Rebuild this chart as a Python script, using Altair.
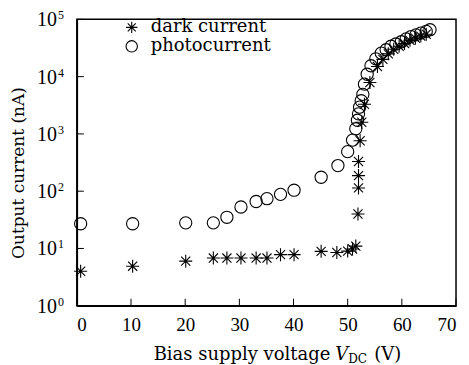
import altair as alt
import pandas as pd

# Dark current (asterisks)
dark_v = [0.7, 10.3, 20.1, 25.2, 27.7, 30.3, 33.1, 35.1, 37.6, 40.1, 45.1, 48.0, 50.0,
          50.9, 51.5, 51.9, 52.0, 52.0, 52.0, 52.3, 52.6, 53.1, 54.1, 55.5, 56.5, 57.5,
          58.5, 59.5, 60.5, 61.5, 62.5, 63.5, 64.5]
dark_i = [4.0, 4.9, 6.0, 6.8, 6.8, 6.8, 6.8, 6.8, 7.8, 7.8, 8.9, 8.5, 9.0,
          9.8, 11, 40, 114, 187, 330, 760, 1600, 3300, 7900, 15000, 20000, 25000,
          30000, 34000, 38000, 43000, 47000, 51000, 55000]

# Photocurrent (circles)
photo_v = [0.7, 10.3, 20.1, 25.2, 27.7, 30.3, 33.1, 35.1, 37.6, 40.1, 45.1, 48.2, 50.0,
           50.9, 51.5, 51.8, 52.0, 52.2, 52.5, 52.8, 53.1, 53.6, 54.3, 55.2, 56.2, 57.1,
           58.0, 58.9, 59.9, 60.8, 61.7, 62.6, 63.5, 64.5, 65.2]
photo_i = [27, 27, 28, 28, 35, 53, 66, 74, 88, 104, 175, 280, 490,
           780, 1230, 1730, 2240, 2930, 3800, 4900, 7400, 11000, 15500, 20500, 25700, 29500,
           33900, 37200, 40700, 45700, 50100, 53700, 57500, 61700, 66000]

x_ticks = [0, 10, 20, 30, 40, 50, 60, 70]
y_ticks = [1, 10, 100, 1000, 10000, 100000]
y_exps = ["0", "1", "2", "3", "4", "5"]
series_names = ["dark current", "photocurrent"]

STAR = "M-1,0L1,0M0,-1L0,1M-0.7,-0.7L0.7,0.7M-0.7,0.7L0.7,-0.7"
FONT = "DejaVu Serif"
NUMFONT = "Liberation Serif"

df = pd.concat([
    pd.DataFrame({"V": dark_v, "I": dark_i, "series": series_names[0]}),
    pd.DataFrame({"V": photo_v, "I": photo_i, "series": series_names[1]}),
])

W, H = 380, 287
xs = alt.Scale(domain=[0, 70], nice=False)
ys = alt.Scale(type="log", domain=[1, 100000], nice=False)

x_enc = alt.X("V:Q", scale=xs,
              axis=alt.Axis(values=x_ticks, title=None, grid=False, ticks=False,
                            labelFont=NUMFONT, labelFontSize=19, labelColor="black",
                            labelPadding=10, domainColor="black", domainWidth=1.5))
y_enc = alt.Y("I:Q", scale=ys,
              axis=alt.Axis(values=y_ticks, title="Output current (nA)", grid=False, ticks=False,
                            labels=False, titleFont=FONT, titleFontSize=17,
                            titleFontWeight="normal", titleColor="black",
                            titleX=-58, titleY=H / 2 + 10, titleAngle=270, titleAlign="center",
                            titleBaseline="middle",
                            domainColor="black", domainWidth=1.5))

points = alt.Chart(df).mark_point(filled=False, strokeWidth=1.1, color="black", opacity=1).encode(
    x=x_enc, y=y_enc,
    shape=alt.Shape("series:N", scale=alt.Scale(domain=series_names, range=[STAR, "circle"]),
                    legend=alt.Legend(title=None, orient="none", legendX=46, legendY=-1,
                                      labelFont=FONT, labelFontSize=18, labelColor="black",
                                      symbolSize=130, symbolStrokeWidth=1.1, symbolStrokeColor="black",
                                      symbolFillColor="transparent", rowPadding=1, labelOffset=10)),
    size=alt.condition(alt.datum.series == "dark current", alt.value(170), alt.value(150)),
)

xt = pd.DataFrame({"t": x_ticks})
yt = pd.DataFrame({"t": y_ticks, "e": y_exps, "b": ["10"] * len(y_ticks)})
xtick = alt.Chart(xt).mark_rule(color="black", strokeWidth=1).encode(
    x=alt.X("t:Q", scale=xs), y=alt.value(H), y2=alt.value(H - 7))
ytick = alt.Chart(yt).mark_rule(color="black", strokeWidth=1).encode(
    y=alt.Y("t:Q", scale=ys), x=alt.value(0), x2=alt.value(7))
ylab = alt.Chart(yt).mark_text(font=NUMFONT, fontSize=20, align="right", baseline="middle",
                               color="black", dy=1).encode(
    y=alt.Y("t:Q", scale=ys), x=alt.value(-20), text="b:N")
yexp = alt.Chart(yt).mark_text(font=NUMFONT, fontSize=12, align="left", baseline="middle",
                               color="black", dy=-4).encode(
    y=alt.Y("t:Q", scale=ys), x=alt.value(-19), text="e:N")

BASE = 341
t1 = alt.Chart(pd.DataFrame({"s": ["Bias supply voltage"]})).mark_text(
    font=FONT, fontSize=18, align="right", baseline="alphabetic", color="black").encode(
    text="s:N", x=alt.value(254), y=alt.value(BASE))
t2 = alt.Chart(pd.DataFrame({"s": ["V"]})).mark_text(
    font=FONT, fontSize=18, fontStyle="italic", align="left", baseline="alphabetic", color="black").encode(
    text="s:N", x=alt.value(259), y=alt.value(BASE))
t3 = alt.Chart(pd.DataFrame({"s": ["DC"]})).mark_text(
    font=FONT, fontSize=12, align="left", baseline="alphabetic", color="black").encode(
    text="s:N", x=alt.value(272), y=alt.value(BASE + 3))
t4 = alt.Chart(pd.DataFrame({"s": ["(V)"]})).mark_text(
    font=FONT, fontSize=18, align="left", baseline="alphabetic", color="black").encode(
    text="s:N", x=alt.value(298), y=alt.value(BASE))

chart = alt.layer(points, xtick, ytick, ylab, yexp, t1, t2, t3, t4).properties(
    width=W, height=H,
    autosize=alt.AutoSizeParams(type="none"),
    padding={"left": 69, "top": 11, "right": 5, "bottom": 60},
    background="white",
).configure_view(stroke="black", strokeWidth=1.5)

chart.save("out.html", embed_options={"renderer": "svg", "actions": False})
